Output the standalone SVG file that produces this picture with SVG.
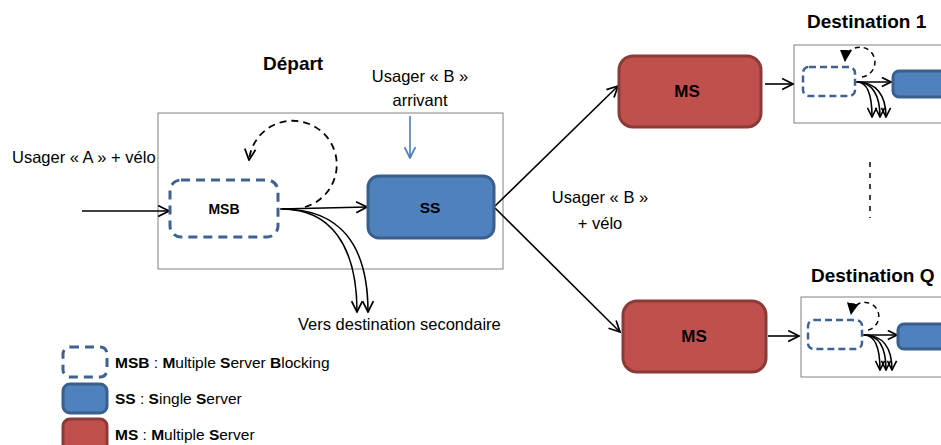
<svg xmlns="http://www.w3.org/2000/svg" width="941" height="445" viewBox="0 0 941 445">
<style>
text{font-family:"Liberation Sans",Arial,sans-serif;fill:#000}
.lbl{font-size:16.5px}
.ttl{font-size:19px;font-weight:bold}
.nl{font-weight:bold;text-anchor:middle}
.frame{fill:#fff;stroke:#808080;stroke-width:1}
.msb{fill:#fff;stroke:#3f6290;stroke-width:3;stroke-dasharray:9,6}
.msbs{fill:#fff;stroke:#3f6290;stroke-width:2.5;stroke-dasharray:7,4}
.ss{fill:#4f81bd;stroke:#3a5f8c;stroke-width:3}
.ms{fill:#c0504d;stroke:#8c3a38;stroke-width:3}
.ln{fill:none;stroke:#000;stroke-width:1.6}
.lnb{fill:none;stroke:#4a7ebb;stroke-width:1.6}
.loop{fill:none;stroke:#000;stroke-width:1.8;stroke-dasharray:7,5}
.loops{fill:none;stroke:#000;stroke-width:1.5;stroke-dasharray:5,4}
.lg{font-size:15.5px}
</style>
<defs>
<marker id="a" viewBox="0 0 12 12" refX="11" refY="6" markerWidth="13" markerHeight="13" markerUnits="userSpaceOnUse" orient="auto">
<path d="M1,1 L11,6 L1,11" fill="none" stroke="#000" stroke-width="1.6"/>
</marker>
<marker id="ab" viewBox="0 0 12 12" refX="11" refY="6" markerWidth="13" markerHeight="13" markerUnits="userSpaceOnUse" orient="auto">
<path d="M1,1 L11,6 L1,11" fill="none" stroke="#4a7ebb" stroke-width="1.6"/>
</marker>
<marker id="as" viewBox="0 0 12 12" refX="11" refY="6" markerWidth="11" markerHeight="11" markerUnits="userSpaceOnUse" orient="auto">
<path d="M1,1 L11,6 L1,11" fill="none" stroke="#000" stroke-width="1.8"/>
</marker>
<marker id="af" viewBox="0 0 12 12" refX="11" refY="6" markerWidth="12" markerHeight="12" markerUnits="userSpaceOnUse" orient="auto">
<path d="M0,0 L12,6 L0,12 Z" fill="#000"/>
</marker>
</defs>

<g id="depart-frame">
<rect class="frame" x="158" y="113" width="345" height="156"/>
<text class="ttl" x="263" y="70">Départ</text>
</g>

<g id="dest1-frame">
<rect class="frame" x="794" y="45" width="160" height="78"/>
<text class="ttl" x="807" y="28">Destination 1</text>
</g>

<g id="destQ-frame">
<rect class="frame" x="801" y="297" width="160" height="80"/>
<text class="ttl" x="811" y="282">Destination Q</text>
</g>

<g id="connectors">
<path class="ln" d="M82,211 L169,211" marker-end="url(#a)"/>
<path class="lnb" d="M410,116 L410,158" marker-end="url(#ab)"/>
<path class="loop" d="M305,207 A44 44 0 1 0 249,160" marker-end="url(#a)"/>
<path class="ln" d="M280,209 L367,207" marker-end="url(#a)"/>
<path class="ln" d="M282,209 C330,209 357,245 357,312" marker-end="url(#a)"/>
<path class="ln" d="M282,209 C340,209 368,245 368,312" marker-end="url(#a)"/>
<path class="ln" d="M495,206 L618,86" marker-end="url(#a)"/>
<path class="ln" d="M495,208 L620,332" marker-end="url(#a)"/>
<path class="ln" d="M765,84 L793,84" marker-end="url(#a)"/>
<path class="ln" d="M768,336 L799,336" marker-end="url(#a)"/>
<path class="loops" d="M862,77 A15 15 0 1 0 845,61" marker-end="url(#af)"/>
<path class="ln" d="M856,82 L891,82" marker-end="url(#as)"/>
<path class="ln" d="M857,82 C868,82 872,95 872,117" marker-end="url(#as)"/>
<path class="ln" d="M857,82 C872,82 880,95 880,117" marker-end="url(#as)"/>
<path class="ln" d="M857,82 C876,82 886,95 886,117" marker-end="url(#as)"/>
<path class="loops" d="M868,330 A14 14 0 1 0 851,314" marker-end="url(#af)"/>
<path class="ln" d="M863,335 L897,335" marker-end="url(#as)"/>
<path class="ln" d="M864,335 C875,335 880,348 880,370" marker-end="url(#as)"/>
<path class="ln" d="M864,335 C879,335 886,348 886,370" marker-end="url(#as)"/>
<path class="ln" d="M864,335 C883,335 892,348 892,370" marker-end="url(#as)"/>
<path d="M870,162 L870,218" fill="none" stroke="#000" stroke-width="1.5" stroke-dasharray="5,6"/>
</g>

<g id="msb">
<rect class="msb" x="170" y="180" width="108" height="57" rx="11"/>
<text class="nl" x="224" y="214" font-size="14">MSB</text>
</g>
<g id="ss">
<rect class="ss" x="368" y="176" width="126" height="62" rx="11"/>
<text class="nl" x="430" y="213" font-size="15.5">SS</text>
</g>
<g id="ms1">
<rect class="ms" x="619" y="56" width="142" height="71" rx="14"/>
<text class="nl" x="687" y="97" font-size="17">MS</text>
</g>
<g id="msQ">
<rect class="ms" x="623" y="301" width="143" height="71" rx="14"/>
<text class="nl" x="694" y="342" font-size="17">MS</text>
</g>
<g id="d1-msb"><rect class="msbs" x="803" y="67" width="52" height="29" rx="6"/></g>
<g id="d1-ss"><rect class="ss" x="893" y="71" width="70" height="26" rx="6"/></g>
<g id="dQ-msb"><rect class="msbs" x="808" y="320" width="54" height="29" rx="6"/></g>
<g id="dQ-ss"><rect class="ss" x="898" y="324" width="70" height="25" rx="6"/></g>

<g id="labels">
<text class="lbl" x="12" y="163">Usager « A » + vélo</text>
<text class="lbl" x="420" y="82" text-anchor="middle">Usager « B »</text>
<text class="lbl" x="420" y="106" text-anchor="middle">arrivant</text>
<text class="lbl" x="600" y="203" text-anchor="middle">Usager « B »</text>
<text class="lbl" x="600" y="229" text-anchor="middle">+ vélo</text>
<text class="lbl" x="298" y="330">Vers destination secondaire</text>
</g>

<g id="legend">
<rect class="msb" x="63" y="347" width="44" height="30" rx="7" stroke-dasharray="7,5"/>
<text class="lg" x="115" y="368"><tspan font-weight="bold">MSB</tspan> : <tspan font-weight="bold">M</tspan>ultiple <tspan font-weight="bold">S</tspan>erver <tspan font-weight="bold">B</tspan>locking</text>
<rect class="ss" x="63" y="384" width="44" height="29" rx="7"/>
<text class="lg" x="115" y="404"><tspan font-weight="bold">SS</tspan> : <tspan font-weight="bold">S</tspan>ingle <tspan font-weight="bold">S</tspan>erver</text>
<rect class="ms" x="63" y="419" width="44" height="34" rx="7"/>
<text class="lg" x="115" y="440"><tspan font-weight="bold">MS</tspan> : <tspan font-weight="bold">M</tspan>ultiple <tspan font-weight="bold">S</tspan>erver</text>
</g>
</svg>
